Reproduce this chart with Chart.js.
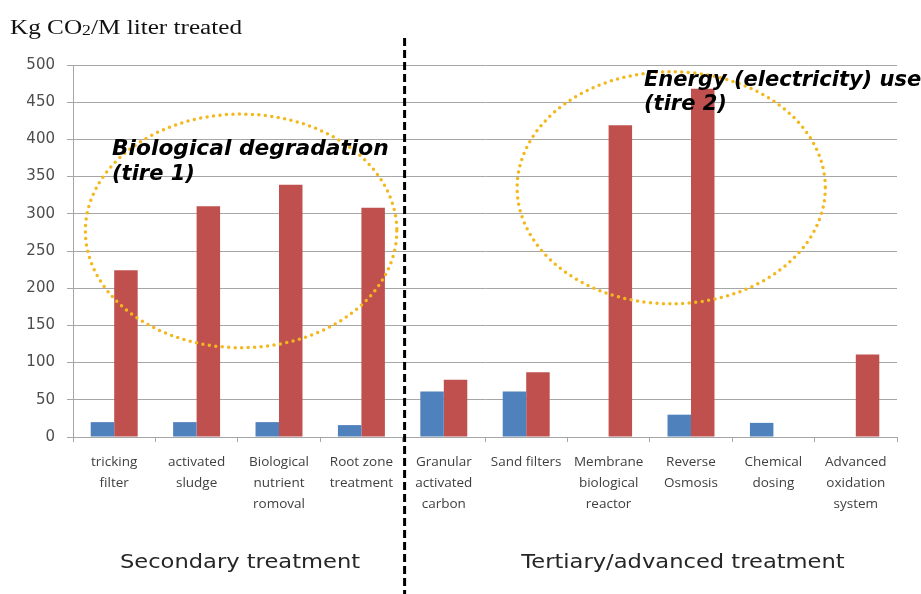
<!DOCTYPE html>
<html>
<head>
<meta charset="utf-8">
<script src="https://cdn.jsdelivr.net/npm/chart.js@4.4.0/dist/chart.umd.min.js"></script>
<style>
  html, body { margin: 0; padding: 0; background: #ffffff; }
  #wrap { width: 921px; height: 594px; position: relative; }
</style>
</head>
<body>
<div id="wrap"><canvas id="co2Chart" width="921" height="594"></canvas></div>
<script>
// ===========================
// DATA
// ===========================

// Treatment processes (x axis)
const categories = [
    ["tricking", "filter"],
    ["activated", "sludge"],
    ["Biological", "nutrient", "romoval"],
    ["Root zone", "treatment"],
    ["Granular", "activated", "carbon"],
    ["Sand filters"],
    ["Membrane", "biological", "reactor"],
    ["Reverse", "Osmosis"],
    ["Chemical", "dosing"],
    ["Advanced", "oxidation", "system"]
];

// Kg CO2 per M liter treated
const blueValues = [20, 20, 20, 16, 61, 61, 0, 30, 19, 0];
const redValues = [224, 310, 339, 308, 77, 87, 419, 468, 0, 111];

// Y axis
const yMin = 0;
const yMax = 500;
const yStep = 50;

// Groups below the axis
const groupTitles = ["Secondary treatment", "Tertiary/advanced treatment"];
const secondaryCount = 4;

// draw text stretched horizontally around its anchor
function wideText(ctx, text, x, y, stretch) {
    ctx.save();
    ctx.translate(x, y);
    ctx.scale(stretch, 1);
    ctx.fillText(text, 0, 0);
    ctx.restore();
}

// ===========================
// OVERLAY (title, divider, circles, notes)
// ===========================
const overlay = {
    id: "overlay",
    afterDatasetsDraw(chart) {
        const ctx = chart.ctx;
        const x = chart.scales.x;
        const y = chart.scales.y;
        const step = x.getPixelForValue(1) - x.getPixelForValue(0);

        ctx.save();

        // dotted circles around each tier
        const rings = [
            { cx: 1.54, cy: 277, rx: 1.89, ry: 157 },
            { cx: 6.76, cy: 335, rx: 1.87, ry: 156 }
        ];
        ctx.strokeStyle = "#F3B81E";
        ctx.lineWidth = 3.5;
        ctx.lineCap = "round";
        ctx.setLineDash([0, 6.5]);
        rings.forEach(r => {
            const px = x.getPixelForValue(0) + r.cx * step;
            const py = y.getPixelForValue(r.cy);
            const ry = y.getPixelForValue(0) - y.getPixelForValue(r.ry);
            ctx.beginPath();
            ctx.ellipse(px, py, r.rx * step, ry, 0, 0, Math.PI * 2);
            ctx.stroke();
        });

        // tier notes
        ctx.setLineDash([]);
        ctx.fillStyle = "#000000";
        ctx.font = "italic bold 21px 'DejaVu Sans'";
        ctx.textAlign = "left";
        ctx.textBaseline = "middle";
        wideText(ctx, "Biological degradation", 112, 150, 1.035);
        ctx.fillText("(tire 1)", 112, 175);
        ctx.fillText("Energy (electricity) use", 644, 81);
        ctx.fillText("(tire 2)", 644, 105);

        // divider between secondary and tertiary
        const divX = x.getPixelForValue(secondaryCount - 0.5) + 2;
        ctx.strokeStyle = "#000000";
        ctx.lineWidth = 3;
        ctx.lineCap = "butt";
        ctx.setLineDash([8, 4]);
        ctx.beginPath();
        ctx.moveTo(divX, 38);
        ctx.lineTo(divX, 594);
        ctx.stroke();
        ctx.setLineDash([]);

        // axis title with subscript, stretched a little wider
        ctx.save();
        ctx.translate(10, 0);
        ctx.scale(1.26, 1);
        ctx.fillStyle = "#111111";
        ctx.textBaseline = "alphabetic";
        ctx.font = "20px 'Liberation Serif'";
        let tx = 0;
        ctx.fillText("Kg CO", tx, 34);
        tx += ctx.measureText("Kg CO").width;
        ctx.font = "14px 'Liberation Serif'";
        ctx.fillText("2", tx, 35);
        tx += ctx.measureText("2").width;
        ctx.font = "20px 'Liberation Serif'";
        ctx.fillText("/M liter treated", tx, 34);
        ctx.restore();

        // group titles
        ctx.fillStyle = "#262626";
        ctx.font = "20px 'DejaVu Sans'";
        ctx.textAlign = "center";
        ctx.textBaseline = "middle";
        wideText(ctx, groupTitles[0], 240, 563, 1.13);
        wideText(ctx, groupTitles[1], 683, 563, 1.13);

        ctx.restore();
    }
};

// ===========================
// CHART
// ===========================
new Chart(document.getElementById("co2Chart"), {

    type: "bar",

    data: {
        labels: categories,
        datasets: [
            {
                label: "Blue",
                data: blueValues,
                backgroundColor: "#4F81BD",
                barPercentage: 1,
                categoryPercentage: 0.57
            },
            {
                label: "Red",
                data: redValues,
                backgroundColor: "#C0504D",
                barPercentage: 1,
                categoryPercentage: 0.57
            }
        ]
    },

    options: {
        responsive: false,
        animation: false,
        layout: {
            padding: { top: 65, right: 24, left: 0, bottom: 0 }
        },
        plugins: {
            legend: { display: false },
            tooltip: { enabled: false }
        },
        scales: {
            x: {
                afterFit(scale) { scale.height = 157; },
                border: { color: "#A6A6A6", width: 1 },
                grid: {
                    offset: true,
                    drawOnChartArea: false,
                    drawTicks: true,
                    tickLength: 5,
                    color: "#A6A6A6"
                },
                ticks: {
                    color: "#404040",
                    font: { family: "'Open Sans'", size: 13.5, lineHeight: 1.55 },
                    padding: 10,
                    maxRotation: 0,
                    autoSkip: false
                }
            },
            y: {
                min: yMin,
                max: yMax,
                afterFit(scale) { scale.width = 73; },
                border: { color: "#A6A6A6", width: 1 },
                grid: {
                    color: "#A6A6A6",
                    tickLength: 6
                },
                ticks: {
                    stepSize: yStep,
                    color: "#4D4D4D",
                    font: { family: "'DejaVu Sans'", size: 15 },
                    padding: 12
                }
            }
        }
    },

    plugins: [overlay]

});
</script>
</body>
</html>
